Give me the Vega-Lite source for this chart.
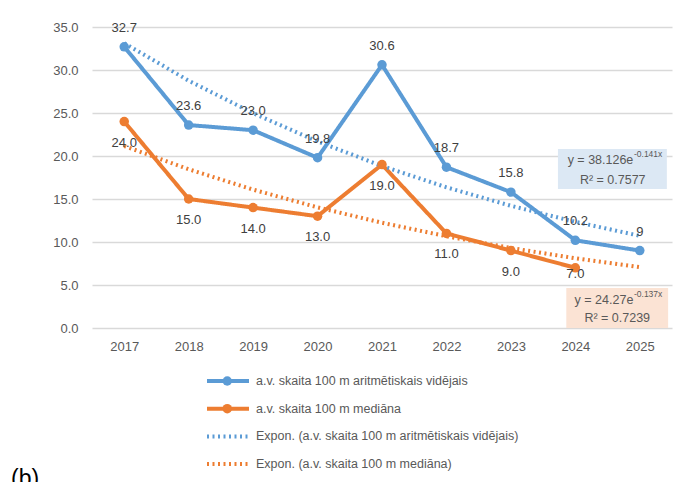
{
  "$schema": "https://vega.github.io/schema/vega-lite/v6.json",
  "width": 580,
  "height": 301,
  "autosize": {"type": "none"},
  "padding": {"left": 92, "top": 27, "right": 25, "bottom": 154},
  "background": "white",
  "config": {
    "font": "Liberation Sans",
    "view": {"stroke": null}
  },
  "title": {
    "text": "(b)",
    "orient": "top",
    "anchor": "start",
    "frame": "group",
    "fontSize": 23,
    "fontWeight": "normal",
    "color": "#000000",
    "dx": -81,
    "dy": 474
  },
  "datasets": {
    "series": [
      {"year": 2017, "series": "a.v. skaita 100 m aritmētiskais vidējais", "value": 32.7, "label": "32.7"},
      {"year": 2018, "series": "a.v. skaita 100 m aritmētiskais vidējais", "value": 23.6, "label": "23.6"},
      {"year": 2019, "series": "a.v. skaita 100 m aritmētiskais vidējais", "value": 23.0, "label": "23.0"},
      {"year": 2020, "series": "a.v. skaita 100 m aritmētiskais vidējais", "value": 19.8, "label": "19.8"},
      {"year": 2021, "series": "a.v. skaita 100 m aritmētiskais vidējais", "value": 30.6, "label": "30.6"},
      {"year": 2022, "series": "a.v. skaita 100 m aritmētiskais vidējais", "value": 18.7, "label": "18.7"},
      {"year": 2023, "series": "a.v. skaita 100 m aritmētiskais vidējais", "value": 15.8, "label": "15.8"},
      {"year": 2024, "series": "a.v. skaita 100 m aritmētiskais vidējais", "value": 10.2, "label": "10.2"},
      {"year": 2025, "series": "a.v. skaita 100 m aritmētiskais vidējais", "value": 9, "label": "9"},
      {"year": 2017, "series": "a.v. skaita 100 m mediāna", "value": 24.0, "label": "24.0"},
      {"year": 2018, "series": "a.v. skaita 100 m mediāna", "value": 15.0, "label": "15.0"},
      {"year": 2019, "series": "a.v. skaita 100 m mediāna", "value": 14.0, "label": "14.0"},
      {"year": 2020, "series": "a.v. skaita 100 m mediāna", "value": 13.0, "label": "13.0"},
      {"year": 2021, "series": "a.v. skaita 100 m mediāna", "value": 19.0, "label": "19.0"},
      {"year": 2022, "series": "a.v. skaita 100 m mediāna", "value": 11.0, "label": "11.0"},
      {"year": 2023, "series": "a.v. skaita 100 m mediāna", "value": 9.0, "label": "9.0"},
      {"year": 2024, "series": "a.v. skaita 100 m mediāna", "value": 7.0, "label": "7.0"},
      {"year": 2017, "series": "Expon. (a.v. skaita 100 m aritmētiskais vidējais)", "value": 33.11},
      {"year": 2018, "series": "Expon. (a.v. skaita 100 m aritmētiskais vidējais)", "value": 28.76},
      {"year": 2019, "series": "Expon. (a.v. skaita 100 m aritmētiskais vidējais)", "value": 24.98},
      {"year": 2020, "series": "Expon. (a.v. skaita 100 m aritmētiskais vidējais)", "value": 21.69},
      {"year": 2021, "series": "Expon. (a.v. skaita 100 m aritmētiskais vidējais)", "value": 18.84},
      {"year": 2022, "series": "Expon. (a.v. skaita 100 m aritmētiskais vidējais)", "value": 16.36},
      {"year": 2023, "series": "Expon. (a.v. skaita 100 m aritmētiskais vidējais)", "value": 14.21},
      {"year": 2024, "series": "Expon. (a.v. skaita 100 m aritmētiskais vidējais)", "value": 12.34},
      {"year": 2025, "series": "Expon. (a.v. skaita 100 m aritmētiskais vidējais)", "value": 10.72},
      {"year": 2017, "series": "Expon. (a.v. skaita 100 m mediāna)", "value": 21.16},
      {"year": 2018, "series": "Expon. (a.v. skaita 100 m mediāna)", "value": 18.46},
      {"year": 2019, "series": "Expon. (a.v. skaita 100 m mediāna)", "value": 16.09},
      {"year": 2020, "series": "Expon. (a.v. skaita 100 m mediāna)", "value": 14.03},
      {"year": 2021, "series": "Expon. (a.v. skaita 100 m mediāna)", "value": 12.24},
      {"year": 2022, "series": "Expon. (a.v. skaita 100 m mediāna)", "value": 10.67},
      {"year": 2023, "series": "Expon. (a.v. skaita 100 m mediāna)", "value": 9.30},
      {"year": 2024, "series": "Expon. (a.v. skaita 100 m mediāna)", "value": 8.11},
      {"year": 2025, "series": "Expon. (a.v. skaita 100 m mediāna)", "value": 7.08}
    ],
    "boxes": [
      {"trend": "mean", "x1": 2023.73, "x2": 2025.42, "y1": 16.16, "y2": 20.81},
      {"trend": "median", "x1": 2023.86, "x2": 2025.44, "y1": 0, "y2": 4.65}
    ],
    "notes": [
      {"part": "base", "x": 2024.90, "y": 19.53, "text": "y = 38.126e"},
      {"part": "exp", "x": 2024.91, "y": 20.23, "text": "-0.141x"},
      {"part": "r2", "x": 2024.58, "y": 17.21, "text": "R² = 0.7577"},
      {"part": "base", "x": 2024.90, "y": 3.26, "text": "y = 24.27e"},
      {"part": "exp", "x": 2024.91, "y": 3.95, "text": "-0.137x"},
      {"part": "r2", "x": 2024.65, "y": 1.16, "text": "R² = 0.7239"}
    ]
  },
  "encoding": {
    "x": {
      "field": "year",
      "type": "quantitative",
      "scale": {"domain": [2016.5, 2025.5], "nice": false, "zero": false},
      "axis": {
        "title": null,
        "values": [2017, 2018, 2019, 2020, 2021, 2022, 2023, 2024, 2025],
        "format": "d",
        "grid": false,
        "domain": false,
        "ticks": false,
        "labelColor": "#595959",
        "labelFontSize": 13,
        "labelPadding": 12
      }
    },
    "y": {
      "field": "value",
      "type": "quantitative",
      "scale": {"domain": [0, 35], "nice": false},
      "axis": {
        "title": null,
        "values": [0, 5, 10, 15, 20, 25, 30, 35],
        "format": ".1f",
        "domain": false,
        "ticks": false,
        "gridColor": "#d9d9d9",
        "gridWidth": 1.3,
        "labelColor": "#595959",
        "labelFontSize": 13,
        "labelPadding": 14
      }
    }
  },
  "layer": [
    {
      "data": {"name": "boxes"},
      "transform": [{"filter": "datum.trend === 'mean'"}],
      "mark": {"type": "rect", "fill": "#dce8f4"},
      "encoding": {
        "x": {"field": "x1", "type": "quantitative"},
        "x2": {"field": "x2"},
        "y": {"field": "y1", "type": "quantitative"},
        "y2": {"field": "y2"}
      }
    },
    {
      "data": {"name": "boxes"},
      "transform": [{"filter": "datum.trend === 'median'"}],
      "mark": {"type": "rect", "fill": "#fbe3d4"},
      "encoding": {
        "x": {"field": "x1", "type": "quantitative"},
        "x2": {"field": "x2"},
        "y": {"field": "y1", "type": "quantitative"},
        "y2": {"field": "y2"}
      }
    },
    {
      "data": {"name": "series"},
      "mark": {"type": "line"},
      "encoding": {
        "color": {
          "field": "series",
          "type": "nominal",
          "scale": {
            "domain": [
              "a.v. skaita 100 m aritmētiskais vidējais",
              "a.v. skaita 100 m mediāna",
              "Expon. (a.v. skaita 100 m aritmētiskais vidējais)",
              "Expon. (a.v. skaita 100 m mediāna)"
            ],
            "range": ["#5b9bd5", "#ed7d31", "#5b9bd5", "#ed7d31"]
          },
          "legend": {
            "title": null,
            "orient": "none",
            "legendX": 113,
            "legendY": 346,
            "direction": "vertical",
            "labelFontSize": 12.5,
            "labelColor": "#595959",
            "labelOffset": 5,
            "labelLimit": 500,
            "symbolSize": 1764,
            "symbolType": "stroke",
            "clipHeight": 16,
            "rowPadding": 11.7,
            "encode": {
              "symbols": {
                "update": {
                  "strokeWidth": {"signal": "indexof(datum.value, 'Expon') === 0 ? 2 : 4"},
                  "strokeDash": {"signal": "indexof(datum.value, 'Expon') === 0 ? [2, 3] : [1, 0]"},
                  "fill": {"value": "transparent"}
                }
              }
            }
          }
        },
        "strokeDash": {
          "field": "series",
          "type": "nominal",
          "scale": {
            "domain": [
              "a.v. skaita 100 m aritmētiskais vidējais",
              "a.v. skaita 100 m mediāna",
              "Expon. (a.v. skaita 100 m aritmētiskais vidējais)",
              "Expon. (a.v. skaita 100 m mediāna)"
            ],
            "range": [[1, 0], [1, 0], [2, 3.5], [2, 3.5]]
          },
          "legend": null
        },
        "strokeWidth": {
          "field": "series",
          "type": "nominal",
          "scale": {
            "domain": [
              "a.v. skaita 100 m aritmētiskais vidējais",
              "a.v. skaita 100 m mediāna",
              "Expon. (a.v. skaita 100 m aritmētiskais vidējais)",
              "Expon. (a.v. skaita 100 m mediāna)"
            ],
            "range": [4, 4, 2, 2]
          },
          "legend": null
        }
      }
    },
    {
      "data": {"name": "series"},
      "transform": [{"filter": "indexof(datum.series, 'Expon') !== 0"}],
      "mark": {"type": "point", "filled": true, "size": 90, "opacity": 1},
      "encoding": {
        "fill": {
          "field": "series",
          "type": "nominal",
          "scale": {
            "domain": ["a.v. skaita 100 m aritmētiskais vidējais", "a.v. skaita 100 m mediāna"],
            "range": ["#5b9bd5", "#ed7d31"]
          },
          "legend": {
            "title": null,
            "orient": "none",
            "legendX": 129,
            "legendY": 346,
            "direction": "vertical",
            "symbolType": "circle",
            "symbolSize": 90,
            "symbolStrokeWidth": 0,
            "labelExpr": "''",
            "labelFontSize": 12.5,
            "clipHeight": 16,
            "rowPadding": 11.7
          }
        }
      }
    },
    {
      "data": {"name": "series"},
      "transform": [{"filter": "datum.series === 'a.v. skaita 100 m aritmētiskais vidējais'"}],
      "mark": {"type": "text", "dy": -19, "fontSize": 13, "color": "#404040"},
      "encoding": {"text": {"field": "label"}}
    },
    {
      "data": {"name": "series"},
      "transform": [{"filter": "datum.series === 'a.v. skaita 100 m mediāna' && datum.year !== 2024"}],
      "mark": {"type": "text", "dy": 21, "fontSize": 13, "color": "#404040"},
      "encoding": {"text": {"field": "label"}}
    },
    {
      "data": {"name": "series"},
      "transform": [{"filter": "datum.series === 'a.v. skaita 100 m mediāna' && datum.year === 2024"}],
      "mark": {"type": "text", "dy": 6, "fontSize": 13, "color": "#404040"},
      "encoding": {"text": {"field": "label"}}
    },
    {
      "data": {"name": "notes"},
      "transform": [{"filter": "datum.part === 'base'"}],
      "mark": {"type": "text", "align": "right", "baseline": "middle", "fontSize": 12.5, "color": "#595959"},
      "encoding": {
        "x": {"field": "x", "type": "quantitative"},
        "y": {"field": "y", "type": "quantitative"},
        "text": {"field": "text"}
      }
    },
    {
      "data": {"name": "notes"},
      "transform": [{"filter": "datum.part === 'exp'"}],
      "mark": {"type": "text", "align": "left", "baseline": "middle", "fontSize": 8.5, "color": "#595959"},
      "encoding": {
        "x": {"field": "x", "type": "quantitative"},
        "y": {"field": "y", "type": "quantitative"},
        "text": {"field": "text"}
      }
    },
    {
      "data": {"name": "notes"},
      "transform": [{"filter": "datum.part === 'r2'"}],
      "mark": {"type": "text", "align": "center", "baseline": "middle", "fontSize": 12.5, "color": "#595959"},
      "encoding": {
        "x": {"field": "x", "type": "quantitative"},
        "y": {"field": "y", "type": "quantitative"},
        "text": {"field": "text"}
      }
    }
  ]
}
